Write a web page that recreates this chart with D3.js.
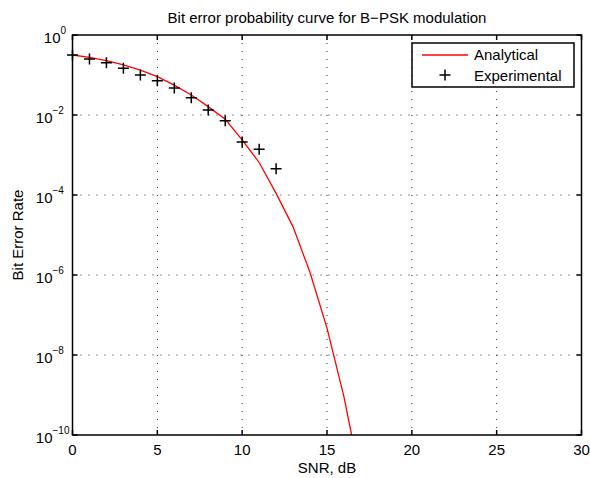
<!DOCTYPE html>
<html>
<head>
<meta charset="utf-8">
<script src="https://cdn.jsdelivr.net/npm/d3@7"></script>
<style>
  body { margin: 0; background: #fff; }
  text { font-family: "Liberation Sans", Arial, Helvetica, sans-serif; fill: #000; }
</style>
</head>
<body>
<div id="chart"></div>
<script>
// SNR points (dB)
const snrAnalytical = [0, 1, 2, 3, 4, 5, 6, 7, 8, 9, 10, 11, 12, 13, 14, 15, 16, 17];
const berAnalytical = [0.316, 0.275, 0.228, 0.178, 0.133, 0.091, 0.056, 0.0316, 0.0162, 0.0078,
    0.0024, 6.5e-4, 1.1e-4, 1.6e-5, 1.15e-6, 4.7e-8, 9e-10, 7e-12];

const snrExperimental = [0, 1, 2, 3, 4, 5, 6, 7, 8, 9, 10, 11, 12];
const berExperimental = [0.316, 0.251, 0.203, 0.147, 0.1, 0.072, 0.047, 0.027, 0.0133, 0.0072,
    0.0021, 0.0014, 4.5e-4];

const xTicks = [0, 5, 10, 15, 20, 25, 30];
const yTickExps = [0, -2, -4, -6, -8, -10];

const titleText = "Bit error probability curve for B\u2212PSK modulation";
const xLabel = "SNR, dB";
const yLabel = "Bit Error Rate";
const legendLabels = ["Analytical", "Experimental"];

const width = 590, height = 478;
const margin = { top: 35, bottom: 43, left: 72.5, right: 8.5 };
const fontSize = 15;

const svg = d3.select("#chart")
    .append("svg")
    .attr("width", width)
    .attr("height", height);

svg.append("rect").attr("width", width).attr("height", height).attr("fill", "#fff");

const x = d3.scaleLinear().domain([0, 30]).range([margin.left, width - margin.right]);
const y = d3.scaleLog().domain([1e-10, 1]).range([height - margin.bottom, margin.top]);

const x0 = x.range()[0], x1 = x.range()[1];
const y0 = y.range()[0], y1 = y.range()[1];

// grid (dotted, MATLAB style)
const grid = svg.append("g")
    .attr("stroke", "#000")
    .attr("stroke-width", 1)
    .attr("stroke-dasharray", "1,7")
    .attr("opacity", 0.85);

grid.selectAll("line.gx")
    .data(xTicks.slice(1, -1))
    .join("line")
    .attr("x1", d => x(d)).attr("x2", d => x(d))
    .attr("y1", y1).attr("y2", y0);

grid.selectAll("line.gy")
    .data(yTickExps.slice(1, -1))
    .join("line")
    .attr("class", "gy")
    .attr("y1", d => y(Math.pow(10, d))).attr("y2", d => y(Math.pow(10, d)))
    .attr("x1", x0).attr("x2", x1);

// clip for the analytical curve
svg.append("clipPath").attr("id", "plotclip")
    .append("rect")
    .attr("x", x0).attr("y", y1)
    .attr("width", x1 - x0).attr("height", y0 - y1);

const analytical = snrAnalytical.map((s, i) => [s, berAnalytical[i]]);
const experimental = snrExperimental.map((s, i) => [s, berExperimental[i]]);

const line = d3.line().x(d => x(d[0])).y(d => y(d[1]));

svg.append("path")
    .datum(analytical)
    .attr("clip-path", "url(#plotclip)")
    .attr("d", line)
    .attr("fill", "none")
    .attr("stroke", "#ff0000")
    .attr("stroke-width", 1.3);

const plus = (cx, cy, r) => `M${cx - r},${cy}H${cx + r}M${cx},${cy - r}V${cy + r}`;

svg.append("g")
    .selectAll("path")
    .data(experimental)
    .join("path")
    .attr("d", d => plus(x(d[0]), y(d[1]), 5.5))
    .attr("stroke", "#000")
    .attr("stroke-width", 1.5)
    .attr("fill", "none");

// axes box + inward ticks
const axes = svg.append("g").attr("stroke", "#000").attr("stroke-width", 1.5);
const tickLen = 5;

axes.selectAll("line.xb")
    .data(xTicks)
    .join("line")
    .attr("x1", d => x(d)).attr("x2", d => x(d))
    .attr("y1", y0).attr("y2", y0 - tickLen);
axes.selectAll("line.xt")
    .data(xTicks)
    .join("line")
    .attr("class", "xt")
    .attr("x1", d => x(d)).attr("x2", d => x(d))
    .attr("y1", y1).attr("y2", y1 + tickLen);
axes.selectAll("line.yl")
    .data(yTickExps)
    .join("line")
    .attr("class", "yl")
    .attr("y1", d => y(Math.pow(10, d))).attr("y2", d => y(Math.pow(10, d)))
    .attr("x1", x0).attr("x2", x0 + tickLen);
axes.selectAll("line.yr")
    .data(yTickExps)
    .join("line")
    .attr("class", "yr")
    .attr("y1", d => y(Math.pow(10, d))).attr("y2", d => y(Math.pow(10, d)))
    .attr("x1", x1).attr("x2", x1 - tickLen);

axes.append("rect")
    .attr("x", x0).attr("y", y1)
    .attr("width", x1 - x0).attr("height", y0 - y1)
    .attr("fill", "none");

// x tick labels
svg.append("g")
    .selectAll("text")
    .data(xTicks)
    .join("text")
    .attr("x", d => x(d))
    .attr("y", y0 + 20)
    .attr("text-anchor", "middle")
    .style("font-size", fontSize + "px")
    .text(d => d);

// y tick labels 10^n
svg.append("g")
    .selectAll("text")
    .data(yTickExps)
    .join("text")
    .attr("x", d => x0 - (d === 0 ? 12 : 20))
    .attr("y", d => y(Math.pow(10, d)) + 8)
    .attr("text-anchor", "end")
    .style("font-size", fontSize + "px")
    .text("10");

svg.append("g")
    .selectAll("text")
    .data(yTickExps)
    .join("text")
    .attr("x", d => x0 - (d === 0 ? 12 : 20))
    .attr("y", d => y(Math.pow(10, d)) - 1)
    .attr("text-anchor", "start")
    .style("font-size", "10px")
    .text(d => d === 0 ? "0" : "\u2212" + (-d));

// titles
svg.append("text")
    .attr("x", (x0 + x1) / 2)
    .attr("y", 23)
    .attr("text-anchor", "middle")
    .style("font-size", fontSize + "px")
    .text(titleText);

svg.append("text")
    .attr("x", (x0 + x1) / 2)
    .attr("y", 473)
    .attr("text-anchor", "middle")
    .style("font-size", fontSize + "px")
    .text(xLabel);

svg.append("text")
    .attr("transform", `translate(23,${(y0 + y1) / 2}) rotate(-90)`)
    .attr("text-anchor", "middle")
    .style("font-size", fontSize + "px")
    .text(yLabel);

// legend
const lg = svg.append("g");
lg.append("rect")
    .attr("x", 412).attr("y", 43)
    .attr("width", 162).attr("height", 44)
    .attr("fill", "#fff")
    .attr("stroke", "#000")
    .attr("stroke-width", 1.5);
lg.append("line")
    .attr("x1", 422).attr("x2", 468)
    .attr("y1", 55).attr("y2", 55)
    .attr("stroke", "#ff0000").attr("stroke-width", 1.3);
lg.append("path")
    .attr("d", plus(445, 75, 5.5))
    .attr("stroke", "#000").attr("stroke-width", 1.5);
lg.selectAll("text")
    .data(legendLabels)
    .join("text")
    .attr("x", 474)
    .attr("y", (d, i) => 60 + i * 21)
    .style("font-size", fontSize + "px")
    .text(d => d);
</script>
</body>
</html>
